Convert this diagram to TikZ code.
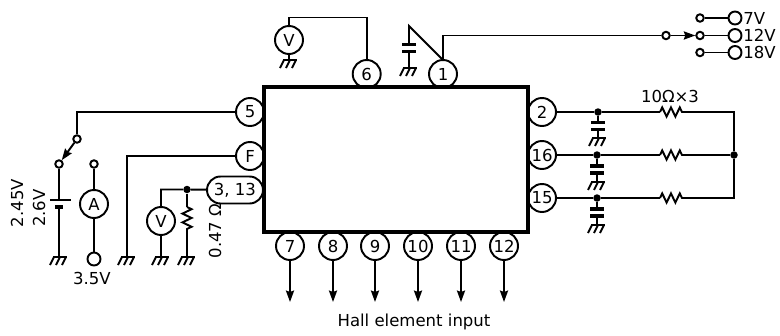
\documentclass[tikz,border=0pt]{standalone}
\usepackage{fontspec}
\setmainfont{DejaVu Sans}
\usetikzlibrary{arrows.meta,shapes.misc,decorations.pathmorphing}
\tikzset{
  wire/.style={line width=1.1pt},
  ic/.style={draw,line width=2.1pt,minimum width=5.28cm,minimum height=2.9cm,inner sep=0pt},
  pin/.style={draw,circle,line width=1.1pt,minimum size=0.56cm,inner sep=0pt,font=\fontsize{9.4}{9.4}\selectfont},
  pill/.style={draw,rounded rectangle,line width=1.1pt,minimum width=1.12cm,minimum height=0.54cm,inner sep=0pt,font=\fontsize{9.4}{9.4}\selectfont},
  term/.style={draw,circle,fill=white,line width=1.1pt,minimum size=0.15cm,inner sep=0pt},
  jack/.style={draw,circle,fill=white,line width=1.1pt,minimum size=0.26cm,inner sep=0pt},
  dot/.style={circle,fill=black,minimum size=0.15cm,inner sep=0pt},
  lbl/.style={inner sep=0pt,font=\fontsize{9.4}{9.4}\selectfont},
  arr/.style={wire,-{Stealth[length=6.5pt,width=4.6pt,inset=0.8pt]}},
  zig/.style={wire,decorate,decoration={zigzag,segment length=5pt,amplitude=2.6pt}},
  gnd/.pic={
    \draw[wire] (-6,0) -- (8,0);
    \foreach \s in {-6,0,6} \draw[wire] (\s+1,0) -- (\s-3,-8);
  },
  capv/.pic={
    \coordinate (-a) at (0,3.5);
    \coordinate (-b) at (0,-3.5);
    \draw[line width=1.9pt] (-7,3.5) -- (7,3.5);
    \draw[line width=1.9pt] (-7,-3.5) -- (7,-3.5);
  }
}
\begin{document}
\begin{tikzpicture}[x=0.02cm,y=0.02cm]
\useasboundingbox (0,0) rectangle (780,-335);
% package
\node[ic] (chip) at (396,-159.5) {};
\node[pin] (p6) at (366.7,-74) {6};
\node[pin] (p1) at (443,-74) {1};
\node[pin] (p5) at (250,-112) {5};
\node[pin] (pF) at (250,-156) {F};
\node[pill] (p3) at (235,-190) {3, 13};
\node[pin] (p2) at (542,-112) {2};
\node[pin] (p16) at (542,-155) {16};
\node[pin] (p15) at (542,-198) {15};
% hall inputs
\foreach \n/\x in {7/290,8/333,9/375,10/418,11/461,12/504} {
  \node[pin] (p\n) at (\x,-246) {\n};
  \coordinate (h\n) at (\x,-302);
  \draw[arr] (p\n) -- (h\n);
}
\node[lbl] (hall) at (414,-322) {Hall element input};
% grounds
\foreach \n/\x/\y in {va/289/60,ca/409/68,bat/59/257,f/127/257,vb/161/257,rb/187/257,c2/598/138,c16/597/182,c15/597/225} {
  \coordinate (g\n) at (\x,-\y);
  \pic at (g\n) {gnd};
}
% top meter
\node[pin] (va) at (289,-40) {V};
\coordinate (ta) at (289,-17.5);
\coordinate (tb) at (366.7,-17.5);
\draw[wire] (gva) -- (va);
\draw[wire] (va) -- (ta) -- (tb) -- (p6);
% pin 1 supply
\pic (ca) at (409,-48) {capv};
\coordinate (da) at (409,-26);
\coordinate (pa) at (443,-60);
\coordinate (pb) at (443,-35.5);
\draw[wire] (ca-b) -- (gca);
\draw[wire] (ca-a) -- (da) -- (pa);
\node[term] (s0) at (666,-35.5) {};
\node[term] (s7) at (700,-18) {};
\node[term] (s12) at (700,-35.5) {};
\node[term] (s18) at (700,-52.5) {};
\node[jack] (j7) at (735,-18) {};
\node[jack] (j12) at (735,-35.5) {};
\node[jack] (j18) at (735,-52.5) {};
\draw[wire] (p1) -- (pb) -- (s0);
\draw[arr] (s0) -- (s12);
\foreach \n in {7,12,18} {
  \draw[wire] (s\n) -- (j\n);
}
\node[lbl,anchor=west] (v7) at (743,-18) {7V};
\node[lbl,anchor=west] (v12) at (743,-35.5) {12V};
\node[lbl,anchor=west] (v18) at (743,-52.5) {18V};
% battery and switch
\coordinate (ka) at (77,-112);
\node[term] (sa) at (77,-139) {};
\node[term] (sb) at (59,-164) {};
\coordinate (ba) at (59,-200);
\coordinate (bb) at (59,-207);
\draw[wire] (p5) -- (ka) -- (sa);
\draw[arr] (sa) -- (sb);
\draw[wire] (sb) -- (ba);
\draw[wire] (bb) -- (gbat);
\draw[wire] (50,-200) -- (71,-200);
\draw[line width=2.2pt] (55,-207) -- (63,-207);
\node[lbl,rotate=90] (u1) at (17,-203) {2.45V};
\node[lbl,rotate=90] (u2) at (39,-208) {2.6V};
% ammeter
\node[term] (sc) at (94,-164) {};
\node[pin] (am) at (94,-204) {A};
\node[jack] (jc) at (94,-259) {};
\draw[wire] (sc) -- (am) -- (jc);
\node[lbl] (u3) at (92,-278) {3.5V};
% pin F
\coordinate (fa) at (127,-156);
\draw[wire] (pF) -- (fa) -- (gf);
% pin 3, 13
\node[dot] (jb) at (187,-189.5) {};
\coordinate (vt) at (161,-189.5);
\node[pin] (vb) at (161,-221) {V};
\coordinate (ra) at (187,-207);
\coordinate (rb) at (187,-233);
\draw[wire] (p3) -- (jb) -- (vt) -- (vb) -- (gvb);
\draw[wire] (jb) -- (ra);
\draw[zig] (ra) -- (rb);
\draw[wire] (rb) -- (grb);
\node[lbl,rotate=90] (u4) at (215,-231) {0.47 Ω};
% output network
\node[dot] (n2) at (598,-112) {};
\node[dot] (n16) at (597,-155) {};
\node[dot] (n15) at (597,-198) {};
\node[dot] (nc) at (734,-155) {};
\pic (c2) at (598,-126) {capv};
\pic (c16) at (597,-169.5) {capv};
\pic (c15) at (597,-212.5) {capv};
\foreach \n/\y in {2/112,16/155,15/198} {
  \coordinate (ra\n) at (660,-\y);
  \coordinate (rb\n) at (685,-\y);
  \draw[wire] (p\n) -- (n\n) -- (ra\n);
  \draw[zig] (ra\n) -- (rb\n);
  \draw[wire] (n\n) -- (c\n-a);
  \draw[wire] (c\n-b) -- (gc\n);
}
\coordinate (ea) at (734,-112);
\coordinate (eb) at (734,-198);
\draw[wire] (rb2) -- (ea) -- (nc);
\draw[wire] (rb16) -- (nc);
\draw[wire] (rb15) -- (eb) -- (nc);
\node[lbl] (u5) at (670,-96) {10Ω×3};
\end{tikzpicture}
\end{document}
